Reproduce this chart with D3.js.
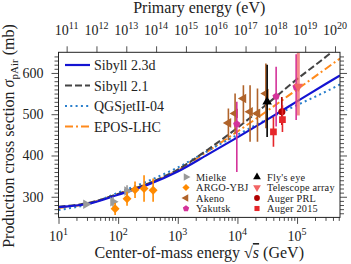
<!DOCTYPE html>
<html>
<head>
<meta charset="utf-8">
<script src="https://cdn.jsdelivr.net/npm/d3@7"></script>
<style>
body { margin: 0; background: #fff; }
svg text { font-family: "Liberation Serif", "Tinos", "DejaVu Serif", serif; fill: #222; }
</style>
</head>
<body>
<svg id="svg" width="351" height="264" font-family="Liberation Serif, DejaVu Serif, serif"></svg>
<script>
// model predictions, sqrt(s) in GeV, sigma in mb
var curveSqrtS = [10, 31.6, 100, 316, 1000, 3160, 1e4, 31600, 1e5, 316000, 525000]
var sibyll23d = [275, 283, 305, 329, 361, 402, 444, 487, 531, 575, 594]
var sibyll21 = [276, 285, 307, 332, 366, 414, 467, 525, 585, 641, 668]
var qgsjet = [268, 282, 310, 338, 371, 411, 450, 488, 522, 556, 572]
var eposLhc = [273, 284, 307, 332, 364, 410, 458, 508, 560, 612, 635]

// measurements
var mielkeSqrtS = [28.9, 82, 141], mielkeSigma = [282, 288, 314], mielkeLo = [278, 276, 300], mielkeHi = [286, 300, 328]
var argoSqrtS = [89, 141, 192, 272, 386], argoSigma = [271, 295, 317, 320, 316], argoLo = [256, 278, 297, 288, 288], argoHi = [285, 312, 337, 352, 344]
var akenoSqrtS = [7060, 9140, 12600, 16300, 21700, 30000], akenoSigma = [479, 502, 538, 506, 502, 550], akenoLo = [437, 453, 478, 433, 433, 466], akenoHi = [514, 550, 570, 570, 562, 623]
var yakutskSqrtS = [9770, 44600, 96600], yakutskSigma = [476, 543, 566], yakutskLo = [360, 470, 486], yakutskHi = [530, 615, 645]
var flySqrtS = [31500], flySigma = [530], flyLo = [445], flyHi = [620]
var taSqrtS = [105000], taSigma = [567], taLo = [497], taHi = [650]
var prlSqrtS = [55600], prlSigma = [506], prlLo = [474], prlHi = [542]
var a15SqrtS = [40200, 56900], a15Sigma = [457, 487], a15Lo = [421, 457], a15Hi = [494, 522]

// ticks
var bottomTicks = [10, 100, 1000, 1e4, 1e5]
var topTicks = [1e11, 1e12, 1e13, 1e14, 1e15, 1e16, 1e17, 1e18, 1e19, 1e20]
var yTicks = [300, 400, 500, 600]

var svg = d3.select("#svg")
var pLeft = 58.5, pRight = 340, pTop = 52.3, pBottom = 217.4

var x = d3.scaleLog().domain([10, 525000]).range([pLeft, pRight])
var y = d3.scaleLinear().domain([250, 650]).range([pBottom, pTop])

// primary energy in eV from sqrt(s) in GeV (fixed target, proton mass)
function primary(rs) { return rs * rs / (2 * 0.938) * 1e9 }
var xTop = d3.scaleLog().domain([primary(10), primary(525000)]).range([pLeft, pRight])

function pairs(xs, ys) { return xs.map(function (v, i) { return [v, ys[i]] }) }

var models = [
    { name: "Sibyll 2.3d", vals: sibyll23d, color: "#1414d2", dash: null, w: 2.2 },
    { name: "Sibyll 2.1", vals: sibyll21, color: "#444444", dash: "7,3", w: 2 },
    { name: "QGSjetII-04", vals: qgsjet, color: "#2a7fcc", dash: "2,3.3", w: 2 },
    { name: "EPOS-LHC", vals: eposLhc, color: "#ff8a1c", dash: "8,3,2,3", w: 2 }
]

var pentagon = { draw: function (ctx, size) {
    var r = Math.sqrt(size / 2.378)
    for (var i = 0; i < 5; i++) {
        var a = -Math.PI / 2 + i * 2 * Math.PI / 5
        i ? ctx.lineTo(r * Math.cos(a), r * Math.sin(a)) : ctx.moveTo(r * Math.cos(a), r * Math.sin(a))
    }
    ctx.closePath()
} }

var experiments = [
    { name: "Mielke", xs: mielkeSqrtS, ys: mielkeSigma, lo: mielkeLo, hi: mielkeHi, color: "#9a9a9a", sym: d3.symbolTriangle, rot: 90, size: 40 },
    { name: "ARGO-YBJ", xs: argoSqrtS, ys: argoSigma, lo: argoLo, hi: argoHi, color: "#ff8a00", sym: d3.symbolSquare, rot: 45, size: 40 },
    { name: "Akeno", xs: akenoSqrtS, ys: akenoSigma, lo: akenoLo, hi: akenoHi, color: "#b0632a", sym: d3.symbolTriangle, rot: -90, size: 40 },
    { name: "Yakutsk", xs: yakutskSqrtS, ys: yakutskSigma, lo: yakutskLo, hi: yakutskHi, color: "#d4339a", sym: pentagon, rot: 0, size: 36 },
    { name: "Fly's eye", xs: flySqrtS, ys: flySigma, lo: flyLo, hi: flyHi, color: "#000000", sym: d3.symbolTriangle, rot: 0, size: 40 },
    { name: "Telescope array", xs: taSqrtS, ys: taSigma, lo: taLo, hi: taHi, color: "#f26464", sym: d3.symbolTriangle, rot: 180, size: 40, bar: 3 },
    { name: "Auger PRL", xs: prlSqrtS, ys: prlSigma, lo: prlLo, hi: prlHi, color: "#b00000", sym: d3.symbolCircle, rot: 0, size: 40 },
    { name: "Auger 2015", xs: a15SqrtS, ys: a15Sigma, lo: a15Lo, hi: a15Hi, color: "#e6262a", sym: d3.symbolSquare, rot: 0, size: 45 }
]

svg.append("clipPath").attr("id", "clip").append("rect")
    .attr("x", pLeft).attr("y", pTop).attr("width", pRight - pLeft).attr("height", pBottom - pTop)

// curves
var line = d3.line().x(function (d) { return x(d[0]) }).y(function (d) { return y(d[1]) }).curve(d3.curveMonotoneX)
var plot = svg.append("g").attr("clip-path", "url(#clip)")
models.slice().reverse().forEach(function (m) {
    plot.append("path").datum(pairs(curveSqrtS, m.vals))
        .attr("d", line).attr("fill", "none").attr("stroke", m.color)
        .attr("stroke-width", m.w).attr("stroke-dasharray", m.dash)
})

// data points with error bars
experiments.forEach(function (e) {
    var g = plot.append("g")
    e.xs.forEach(function (v, i) {
        g.append("line").attr("x1", x(v)).attr("x2", x(v)).attr("y1", y(e.lo[i])).attr("y2", y(e.hi[i]))
            .attr("stroke", e.color).attr("stroke-width", e.bar || 1.6).attr("opacity", e.bar ? 0.75 : 1)
        g.append("path").attr("d", d3.symbol().type(e.sym).size(e.size)())
            .attr("transform", "translate(" + x(v) + "," + y(e.ys[i]) + ") rotate(" + e.rot + ")").attr("fill", e.color)
    })
})

// axes
function minorLog(lo, hi) {
    var out = []
    for (var p = lo; p <= hi; p++) for (var k = 2; k <= 9; k++) out.push(k * Math.pow(10, p))
    return out
}
var tickStyle = function (g) {
    g.select(".domain").remove()
    g.attr("font-family", null)
    g.selectAll("line").attr("stroke", "#222").attr("stroke-width", 0.8)
}
svg.append("g").attr("transform", "translate(0," + pBottom + ")")
    .call(d3.axisBottom(x).tickValues(bottomTicks).tickSize(6.5).tickFormat("")).call(tickStyle)
svg.append("g").attr("transform", "translate(0," + pBottom + ")")
    .call(d3.axisBottom(x).tickValues(minorLog(1, 5).filter(function (v) { return v < 525000 })).tickSize(3.5).tickFormat("")).call(tickStyle)
svg.append("g").attr("transform", "translate(0," + pTop + ")")
    .call(d3.axisTop(xTop).tickValues(topTicks).tickSize(6).tickFormat("")).call(tickStyle)

var yMinor = d3.range(260, 650, 10).filter(function (v) { return v % 100 != 0 })
svg.append("g").attr("transform", "translate(" + pLeft + ",0)")
    .call(d3.axisLeft(y).tickValues(yTicks).tickSize(7).tickPadding(8).tickFormat(d3.format("d"))).call(tickStyle)
    .selectAll("text").attr("font-size", 14).attr("fill", "#222")
svg.append("g").attr("transform", "translate(" + pLeft + ",0)")
    .call(d3.axisLeft(y).tickValues(yMinor).tickSize(4).tickFormat("")).call(tickStyle)
svg.append("g").attr("transform", "translate(" + pRight + ",0)")
    .call(d3.axisRight(y).tickValues(yTicks).tickSize(7).tickFormat("")).call(tickStyle)
svg.append("g").attr("transform", "translate(" + pRight + ",0)")
    .call(d3.axisRight(y).tickValues(yMinor).tickSize(4).tickFormat("")).call(tickStyle)

function powerLabel(sc, v, yy) {
    var t = svg.append("text").attr("x", sc(v)).attr("y", yy).attr("text-anchor", "middle").attr("font-size", 14)
    t.append("tspan").text("10")
    t.append("tspan").attr("dy", -6).attr("font-size", 10).text(Math.round(Math.log10(v)))
}
bottomTicks.forEach(function (v) { powerLabel(x, v, 241) })
topTicks.forEach(function (v) { powerLabel(xTop, v, 35) })

// frame
svg.append("rect").attr("x", pLeft).attr("y", pTop).attr("width", pRight - pLeft).attr("height", pBottom - pTop)
    .attr("fill", "none").attr("stroke", "#222").attr("stroke-width", 1)

// titles
svg.append("text").attr("x", (pLeft + pRight) / 2).attr("y", 13).attr("text-anchor", "middle")
    .attr("font-size", 16).text("Primary energy (eV)")
var xl = svg.append("text").attr("x", (pLeft + pRight) / 2).attr("y", 258).attr("text-anchor", "middle").attr("font-size", 16)
xl.append("tspan").text("Center-of-mass energy √")
xl.append("tspan").attr("font-style", "italic").style("text-decoration", "overline").text("s")
xl.append("tspan").text(" (GeV)")
var yl = svg.append("text").attr("transform", "translate(14,136) rotate(-90)").attr("text-anchor", "middle").attr("font-size", 16)
yl.append("tspan").text("Production cross section ")
yl.append("tspan").attr("font-style", "italic").text("σ")
yl.append("tspan").attr("font-size", 11).attr("dy", 4).text("pAir")
yl.append("tspan").attr("dy", -4).text(" (mb)")

// model legend
var legRows = [65, 85.5, 106, 126.5]
models.forEach(function (m, i) {
    svg.append("line").attr("x1", 65).attr("x2", 90).attr("y1", legRows[i]).attr("y2", legRows[i])
        .attr("stroke", m.color).attr("stroke-width", m.w).attr("stroke-dasharray", m.dash)
    svg.append("text").attr("x", 94).attr("y", legRows[i] + 5).attr("font-size", 14).text(m.name)
})

// data legend, two columns
var dataRows = [177, 187.5, 198, 208.5]
experiments.forEach(function (e, i) {
    var col = Math.floor(i / 4), row = i % 4
    var mx = col ? 257 : 186
    svg.append("path").attr("d", d3.symbol().type(e.sym).size(26)())
        .attr("transform", "translate(" + mx + "," + dataRows[row] + ") rotate(" + e.rot + ")").attr("fill", e.color)
    svg.append("text").attr("x", mx + 10).attr("y", dataRows[row] + 3.5).attr("font-size", 10.3)
        .attr("letter-spacing", 0.2).text(e.name)
})
</script>
</body>
</html>
